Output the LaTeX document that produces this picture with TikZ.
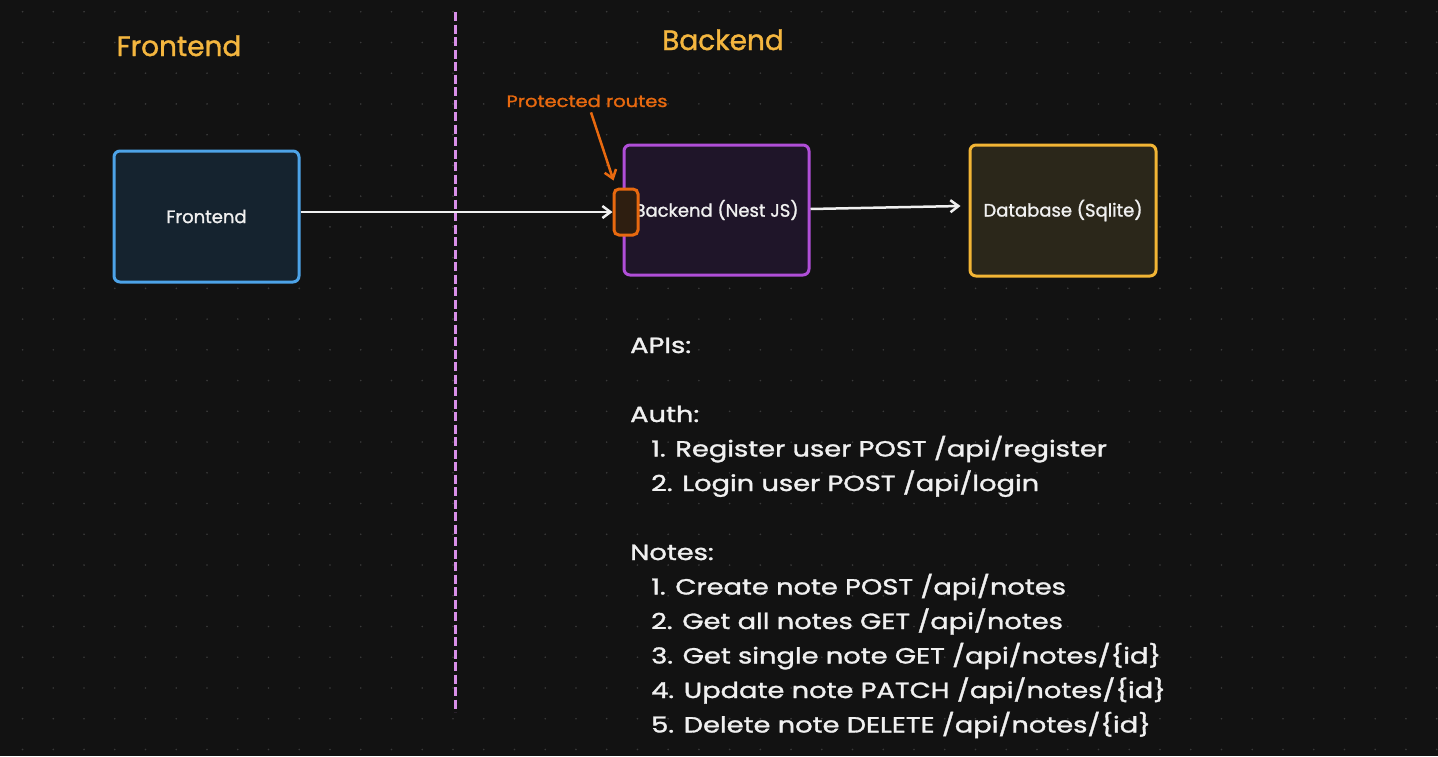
\documentclass[tikz,border=0pt]{standalone}
\usepackage{fontspec}
\setmainfont{Poppins}[FakeBold=1.3]
\usetikzlibrary{arrows.meta}
\definecolor{bg}{HTML}{121212}
\definecolor{griddot}{HTML}{3A3A3A}
\definecolor{titleyellow}{HTML}{F4B63F}
\definecolor{fblue}{HTML}{4DA3E8}
\definecolor{ffill}{HTML}{15232F}
\definecolor{bpurple}{HTML}{B04ED8}
\definecolor{bfill}{HTML}{1F1529}
\definecolor{dyellow}{HTML}{F2B535}
\definecolor{dfill}{HTML}{2B271A}
\definecolor{gorange}{HTML}{E8690F}
\definecolor{gfill}{HTML}{2E1E10}
\definecolor{divider}{HTML}{D88FE8}
\definecolor{txt}{HTML}{F0F0F0}
\newcommand{\apiwide}[1]{\scalebox{1.24}[1]{#1}}
\newcommand{\protwide}[1]{\scalebox{1.18}[1]{#1}}
\tikzset{
  box/.style={draw, rounded corners=6pt, line width=3pt, inner sep=0pt, text=txt, font=\fontsize{18}{20}\selectfont},
  conn/.style={line width=2.5pt, -{Straight Barb[length=8pt,width=12pt]}},
  title/.style={text=titleyellow, font=\fontsize{28}{32}\selectfont, anchor=base, inner sep=0pt},
  apiline/.style={text=txt, font=\fontsize{22}{26}\selectfont, anchor=base west, inner sep=0pt},
}
\begin{document}
\begin{tikzpicture}[x=1pt,y=-1pt]
\useasboundingbox (0,0) rectangle (1438,756);
\fill[bg] (0,0) rectangle (1438,756);
\foreach \i in {0,...,46}{\foreach \j in {0,...,24}{\fill[griddot] ({22.6+30.74*\i},{11.7+30.74*\j}) circle (0.9);}}

% divider
\draw[divider, line width=3pt, dash pattern=on 9pt off 3.5pt] (455,12) -- (455,712);

% titles
\node[title] (ttlfront) at (179,56) {Frontend};
\node[title] (ttlback) at (723,50) {Backend};
\node[text=gorange, font=\fontsize{16.5}{18}\selectfont, anchor=base, inner sep=0pt] (prot) at (587,107) {\protwide{Protected routes}};

% boxes
\node[box, draw=fblue, fill=ffill, minimum width=185pt, minimum height=131pt] (frontend) at (206.5,216.5) {Frontend};
\node[box, draw=bpurple, fill=bfill, minimum width=185pt, minimum height=130pt] (backend) at (716.5,210) {Backend (Nest JS)};
\node[box, draw=gorange, fill=gfill, rounded corners=5pt, minimum width=24pt, minimum height=46pt] (guard) at (626,212) {};
\node[box, draw=dyellow, fill=dfill, minimum width=186pt, minimum height=131pt] (db) at (1063,210.5) {Database (Sqlite)};

% connectors
\draw[conn, txt] ([yshift=4.5pt]frontend.east) -- (guard.west);
\draw[conn, txt] ([yshift=1pt]backend.east) -- ([xshift=-8pt,yshift=4.5pt]db.west);
\draw[conn, gorange] ([xshift=4pt,yshift=-5pt]prot.south) -- ([xshift=1pt,yshift=7pt]guard.north west);

% API list
\node[apiline] (apis) at (630,353) {\apiwide{APIs:}};
\node[apiline] (auth) at (630,422) {\apiwide{Auth:}};
\node[apiline] (a1) at (651,456.5) {\apiwide{1. Register user POST /api/register}};
\node[apiline] (a2) at (651,491) {\apiwide{2. Login user POST /api/login}};
\node[apiline] (notes) at (630,560) {\apiwide{Notes:}};
\node[apiline] (n1) at (651,594.5) {\apiwide{1. Create note POST /api/notes}};
\node[apiline] (n2) at (651,629) {\apiwide{2. Get all notes GET /api/notes}};
\node[apiline] (n3) at (651,663.5) {\apiwide{3. Get single note GET /api/notes/\{id\}}};
\node[apiline] (n4) at (651,698) {\apiwide{4. Update note PATCH /api/notes/\{id\}}};
\node[apiline] (n5) at (651,732.5) {\apiwide{5. Delete note DELETE /api/notes/\{id\}}};
\end{tikzpicture}
\end{document}
